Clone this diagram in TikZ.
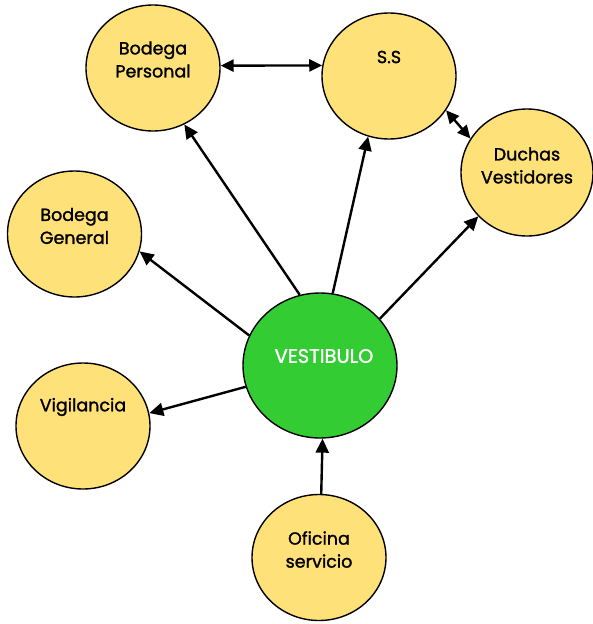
\documentclass[tikz,border=0pt]{standalone}
\usepackage{fontspec}
\setmainfont{Poppins}
\newfontfamily\labelfont{Poppins}[FakeBold=1.4]
\usetikzlibrary{shapes.geometric,arrows.meta}
\definecolor{roomfill}{RGB}{255,225,122}
\definecolor{hallfill}{RGB}{51,204,51}
\tikzset{
  room/.style={ellipse,draw=black,line width=1.4pt,fill=roomfill,
    minimum width=134pt,minimum height=126pt,inner sep=0pt},
  hall/.style={ellipse,draw=black,line width=1.4pt,fill=hallfill,
    minimum width=154pt,minimum height=145pt,inner sep=0pt},
  roomtext/.style={align=center,font=\labelfont\fontsize{17.5}{23}\selectfont,text=black,inner sep=0pt},
  halltext/.style={align=center,font=\labelfont\fontsize{19.5}{23}\selectfont,text=white,inner sep=0pt},
  link/.style={line width=2.4pt,-{Triangle[length=14pt,width=13pt]}},
  duallink/.style={line width=2.4pt,{Triangle[length=13pt,width=12pt]}-{Triangle[length=13pt,width=12pt]}}
}
\begin{document}
\begin{tikzpicture}[x=1pt,y=1pt]
\useasboundingbox (0,0) rectangle (593,-624);

% rooms around the hall
\node[room] (BP) at (153,-68) {};
\node[room] (SS) at (389,-76) {};
\node[room,minimum width=132pt,minimum height=127pt] (DV) at (527,-172.5) {};
\node[room] (BG) at (74.5,-234) {};
\node[room] (VG) at (83,-426) {};
\node[hall] (VE) at (320,-365.5) {};
\node[room] (OS) at (319,-557.5) {};

% labels, set in the upper half of each circle
\node[roomtext] (BPt) at ([yshift=8.5]BP.center) {Bodega\\Personal};
\node[roomtext] (SSt) at ([yshift=19]SS.center) {S.S};
\node[roomtext] (DVt) at ([yshift=7]DV.center) {Duchas\\Vestidores};
\node[roomtext] (BGt) at ([yshift=8]BG.center) {Bodega\\General};
\node[roomtext] (VGt) at ([yshift=19]VG.center) {Vigilancia};
\node[halltext] (VEt) at ([xshift=4,yshift=9.5]VE.center) {VESTIBULO};
\node[roomtext] (OSt) at ([yshift=8]OS.center) {Oficina\\servicio};

% connections
\draw[link] (VE.106) -- (BP.-61);
\draw[link] (VE.157) -- (BG.-15);
\draw[link] (VE.196.5) -- (VG.11.5);
\draw[link] (VE.80) -- (SS.-109.5);
\draw[link] (VE.38.5) -- (DV.222.5);
\draw[link] (OS.88) -- (VE.-88.5);
\draw[duallink] (BP.2) -- (SS.171);
\draw[duallink] (SS.-31) -- (DV.149.5);
\end{tikzpicture}
\end{document}
